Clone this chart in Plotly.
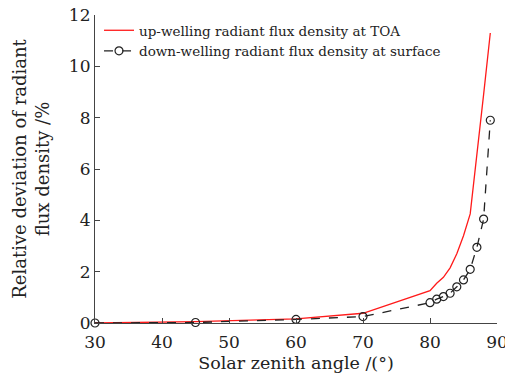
import plotly.graph_objects as go

# Solar zenith angles (degrees)
zenith = [30, 45, 60, 70, 80, 81, 82, 83, 84, 85, 86, 87, 88, 89]

# Relative deviation (%) of radiant flux density
toa_up = [0.0, 0.05, 0.16, 0.38, 1.26, 1.55, 1.78, 2.15, 2.7, 3.4, 4.25, 6.5, 8.9, 11.3]
surface_down = [0.0, 0.02, 0.14, 0.25, 0.79, 0.93, 1.03, 1.16, 1.41, 1.68, 2.09, 2.95, 4.05, 7.9]

x_ticks = [30, 40, 50, 60, 70, 80, 90]
y_ticks = [0, 2, 4, 6, 8, 10, 12]

serif = "DejaVu Serif, Liberation Serif, serif"
ink = "#222222"

fig = go.Figure()
fig.add_trace(go.Scatter(
    x=zenith, y=toa_up, mode="lines",
    name="up-welling radiant flux density at TOA",
    line=dict(color="#ff1a1a", width=1.3),
    cliponaxis=False,
))
fig.add_trace(go.Scatter(
    x=zenith, y=surface_down, mode="lines+markers",
    name="down-welling radiant flux density at surface",
    line=dict(color=ink, width=1.3, dash="dash"),
    marker=dict(symbol="circle-open", size=8, color=ink, line=dict(width=1.2)),
    cliponaxis=False,
))

axis_common = dict(
    showgrid=False, zeroline=False, showline=True,
    linecolor="#444444", linewidth=1.2,
    ticks="inside", ticklen=5, tickwidth=1, tickcolor="#444444",
    tickfont=dict(family=serif, size=17, color=ink),
    ticklabeloverflow="allow",
    automargin=False,
)

fig.update_layout(
    width=505, height=383,
    margin=dict(l=95, r=8, t=15, b=60),
    paper_bgcolor="white", plot_bgcolor="white",
    showlegend=True,
    legend=dict(
        x=0.01, y=1.0, xanchor="left", yanchor="top",
        font=dict(family=serif, size=13.5, color=ink),
        bgcolor="rgba(0,0,0,0)", tracegroupgap=0,
        itemwidth=30,
    ),
    xaxis=dict(
        range=[30, 90], tickvals=x_ticks, ticklabelstandoff=3,
        title=dict(text="Solar zenith angle /(°)", font=dict(family=serif, size=17.5, color=ink), standoff=6),
        **axis_common,
    ),
    yaxis=dict(
        range=[0, 12], tickvals=y_ticks,
        title=dict(text="Relative deviation of radiant<br>flux density /%", font=dict(family=serif, size=18, color=ink), standoff=14),
        **axis_common,
    ),
)

fig.write_html("out.html")
